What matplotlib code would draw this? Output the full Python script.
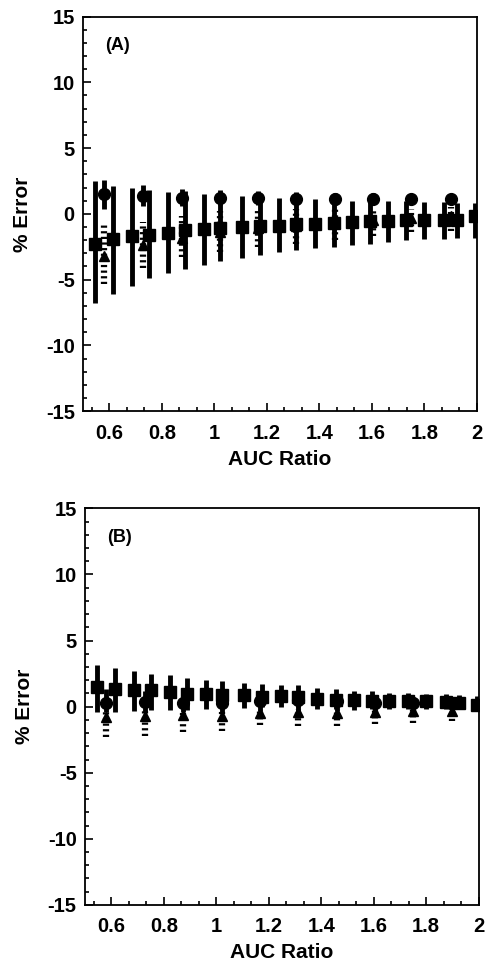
import numpy as np
import matplotlib
matplotlib.use("Agg")
import matplotlib.pyplot as plt
from matplotlib.ticker import MultipleLocator

plt.rcParams['font.family'] = ['Liberation Sans', 'DejaVu Sans']
plt.rcParams['font.weight'] = 'bold'
plt.rcParams['axes.unicode_minus'] = False

# ---------- data ----------
x_sq = [0.545, 0.615, 0.685, 0.75, 0.825, 0.89, 0.96, 1.02, 1.105, 1.175, 1.245,
        1.31, 1.385, 1.455, 1.525, 1.595, 1.66, 1.73, 1.80, 1.875, 1.925, 1.995]
x_pt = [0.58, 0.73, 0.875, 1.02, 1.165, 1.31, 1.46, 1.605, 1.75, 1.90]

# panel A
sqA_y = [-2.3, -1.95, -1.7, -1.6, -1.45, -1.2, -1.15, -1.05, -1.0, -0.9, -0.9,
         -0.8, -0.75, -0.7, -0.65, -0.55, -0.55, -0.5, -0.45, -0.45, -0.45, -0.2]
sqA_hi = [2.5, 2.1, 2.0, 1.8, 1.65, 1.7, 1.5, 1.4, 1.35, 1.3, 1.2,
          1.15, 1.1, 1.05, 1.0, 1.0, 1.0, 0.95, 0.9, 0.9, 0.85, 0.8]
sqA_lo = [-6.8, -6.1, -5.5, -4.9, -4.5, -4.2, -3.9, -3.6, -3.35, -3.1, -2.9,
          -2.75, -2.6, -2.5, -2.4, -2.3, -2.15, -2.0, -1.9, -1.9, -1.8, -1.8]
dA_y = [1.5, 1.35, 1.2, 1.2, 1.2, 1.15, 1.15, 1.15, 1.15, 1.15]
dA_hi = [2.6, 2.2, 1.9, 1.8, 1.75, 1.65, 1.6, 1.55, 1.5, 1.5]
dA_lo = [0.4, 0.6, 0.6, 0.7, 0.7, 0.7, 0.7, 0.75, 0.8, 0.8]
tA_y = [-3.2, -2.35, -1.8, -1.4, -1.1, -0.9, -0.7, -0.5, -0.3, -0.2]
tA_hi = [-0.8, -0.6, -0.2, 0.2, 0.3, 0.4, 0.4, 0.4, 0.4, 0.5]
tA_lo = [-5.3, -4.1, -3.3, -2.9, -2.5, -2.3, -2.0, -1.7, -1.4, -1.3]

# panel B
sqB_y = [1.45, 1.3, 1.25, 1.25, 1.1, 0.95, 0.95, 0.9, 0.85, 0.75, 0.8,
         0.7, 0.55, 0.5, 0.5, 0.4, 0.45, 0.4, 0.4, 0.35, 0.25, 0.1]
sqB_hi = [3.15, 2.9, 2.7, 2.5, 2.4, 2.15, 2.05, 1.95, 1.8, 1.75, 1.65,
          1.6, 1.4, 1.3, 1.2, 1.15, 1.05, 1.0, 0.95, 0.95, 0.9, 0.8]
sqB_lo = [-0.4, -0.4, -0.3, -0.25, -0.25, -0.25, -0.2, -0.1, -0.1, 0.0, -0.05,
          -0.05, -0.2, -0.2, -0.25, -0.2, -0.2, -0.2, -0.2, -0.2, -0.15, -0.1]
dB_y = [0.3, 0.35, 0.3, 0.3, 0.45, 0.5, 0.4, 0.3, 0.25, 0.25]
dB_hi = [1.3, 1.2, 1.1, 1.0, 1.0, 1.0, 0.9, 0.8, 0.75, 0.7]
dB_lo = [-0.4, -0.4, -0.4, -0.4, -0.3, -0.3, -0.3, -0.3, -0.2, -0.2]
tB_y = [-0.75, -0.7, -0.65, -0.7, -0.5, -0.4, -0.45, -0.4, -0.35, -0.35]
tB_hi = [-0.3, -0.3, -0.3, -0.3, -0.2, -0.2, -0.2, -0.2, -0.1, -0.1]
tB_lo = [-2.3, -2.2, -1.9, -1.85, -1.4, -1.5, -1.5, -1.3, -1.2, -1.1]

panels = [
    ("(A)", sqA_y, sqA_hi, sqA_lo, dA_y, dA_hi, dA_lo, tA_y, tA_hi, tA_lo),
    ("(B)", sqB_y, sqB_hi, sqB_lo, dB_y, dB_hi, dB_lo, tB_y, tB_hi, tB_lo),
]
rects = [[0.171, 0.577, 0.810, 0.406], [0.175, 0.069, 0.810, 0.408]]

fig = plt.figure(figsize=(4.86, 9.72), dpi=100)

for rect, (tag, sy, shi, slo, dy, dhi, dlo, ty, thi, tlo) in zip(rects, panels):
    ax = fig.add_axes(rect)
    # triangles with dotted bars
    ax.vlines(x_pt, tlo, thi, colors='k', lw=4.5, linestyles=(0, (0.35, 0.55)))
    ax.plot(x_pt, ty, '^', color='k', ms=7)
    # filled diamonds with short solid bars
    ax.vlines(x_pt, dlo, dhi, colors='k', lw=3.5)
    ax.plot(x_pt, dy, 'o', color='k', ms=8.5)
    # squares with long solid bars
    ax.vlines(x_sq, slo, shi, colors='k', lw=3.5)
    ax.plot(x_sq, sy, 's', color='k', ms=9)

    ax.set_xlim(0.5, 2.0)
    ax.set_ylim(-15, 15)
    ax.xaxis.set_minor_locator(MultipleLocator(1 / 15))
    ax.yaxis.set_major_locator(MultipleLocator(5))
    ax.yaxis.set_minor_locator(MultipleLocator(1))
    ax.set_xticks([0.6, 0.8, 1.0, 1.2, 1.4, 1.6, 1.8, 2.0])
    ax.set_xticklabels(['0.6', '0.8', '1', '1.2', '1.4', '1.6', '1.8', '2'])
    ax.tick_params(which='both', direction='in', width=1.2, labelsize=14.5)
    ax.tick_params(which='major', length=6)
    ax.tick_params(which='minor', length=3)
    ax.tick_params(axis='x', pad=9)
    ax.tick_params(axis='y', pad=6)
    for s in ax.spines.values():
        s.set_linewidth(1.3)
    ax.set_xlabel("AUC Ratio", fontsize=15, fontweight='bold', labelpad=5)
    ax.set_ylabel("% Error", fontsize=15, fontweight='bold', labelpad=10)
    ax.text(0.585, 12.8, tag, fontsize=13, fontweight='bold', va='center')

fig.savefig("out.png", dpi=100)
